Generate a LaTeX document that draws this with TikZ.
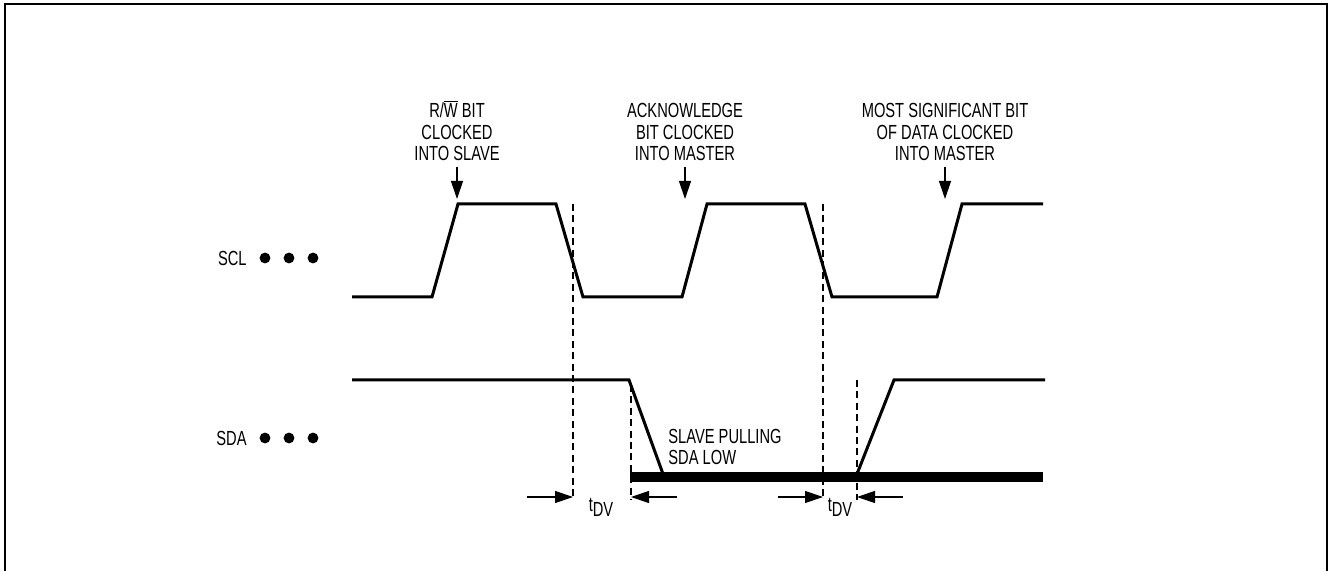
\documentclass[tikz,border=0pt]{standalone}
\usepackage{fontspec}
\setmainfont{Liberation Sans}[FakeStretch=0.72]
\usetikzlibrary{arrows.meta}

\begin{document}
\begin{tikzpicture}[x=.5pt,y=-.5pt,font=\fontsize{10.2}{10.6}\selectfont]
\tikzset{wave/.style={line width=1.5pt,line join=miter},
 guide/.style={dash pattern=on 3.5pt off 2.2pt,line width=.7pt},
 lbl/.style={align=center,inner sep=0pt,anchor=south},
 tip/.style={line width=.6pt,-{Triangle[length=9pt,width=6pt]}}}
\useasboundingbox (0,0) rectangle (1328,571);
\draw[line width=1pt] (5,571)--(5,4)--(1327,4)--(1327,571);
% signal names
\node[anchor=east,inner sep=0pt] (scl) at (247,258) {SCL};
\node[anchor=east,inner sep=0pt] (sda) at (247,438) {SDA};
\foreach \x in {265,289,313}{\fill (\x,258) circle (2.7pt);\fill (\x,438) circle (2.7pt);}
% SCL
\draw[wave] (352,297)--(432,297)--(458,204)--(556,204)--(583,297)--(682,297)--(707,204)
 --(805,204)--(832,297)--(937,297)--(962,204)--(1043,204);
% SDA
\draw[wave] (352,380)--(629,380)--(663,474);
\draw[wave] (857,474)--(894,380)--(1045,380);
\draw[line width=5pt] (630,477)--(1043,477);
\node[anchor=west,align=left,inner sep=0pt] (pull) at (668,447) {SLAVE PULLING\\SDA LOW};
% guides
\foreach \x/\t in {573/204,823/204,631/385,857/380}{\draw[guide] (\x,\t)--(\x,500);}
% top labels
\node[lbl] (rw) at (457,161) {R/$\overline{\mbox{W}}$ BIT\\CLOCKED\\INTO SLAVE};
\node[lbl] (ack) at (685,161) {ACKNOWLEDGE\\BIT CLOCKED\\INTO MASTER};
\node[lbl] (msb) at (945,161) {MOST SIGNIFICANT BIT\\OF DATA CLOCKED\\INTO MASTER};
\coordinate (rwpt) at (457,199);
\coordinate (ackpt) at (685,199);
\coordinate (msbpt) at (945,199);
\draw[tip] ([yshift=-3pt]rw.south)--(rwpt);
\draw[tip] ([yshift=-3pt]ack.south)--(ackpt);
\draw[tip] ([yshift=-3pt]msb.south)--(msbpt);
% t_DV
\coordinate (g1) at (573,497);\coordinate (f1) at (527,497);
\coordinate (g2) at (631,497);\coordinate (f2) at (677,497);
\coordinate (g3) at (823,497);\coordinate (f3) at (778,497);
\coordinate (g4) at (857,497);\coordinate (f4) at (903,497);
\foreach \i in {1,...,4}{\draw[tip] (f\i)--(g\i);}
\node (tdv1) at (601,507) {t\raisebox{-.45ex}{DV}};
\node (tdv2) at (840,507) {t\raisebox{-.45ex}{DV}};
\end{tikzpicture}
\end{document}
